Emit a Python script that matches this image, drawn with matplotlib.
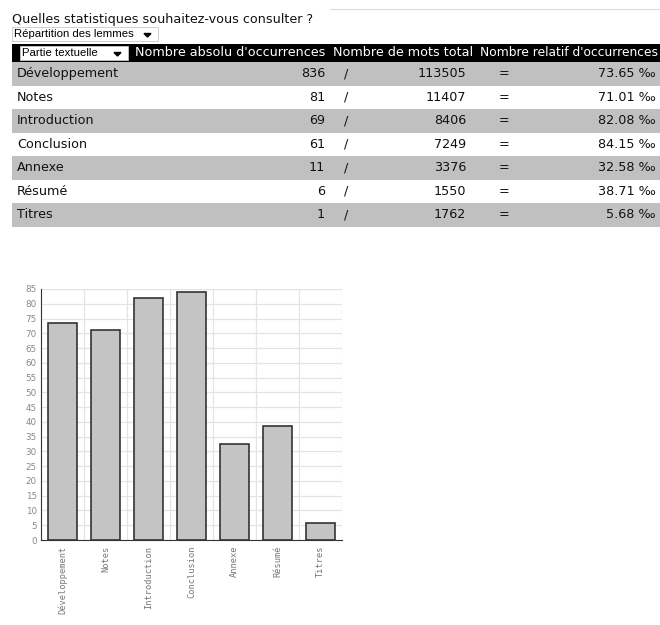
import matplotlib.pyplot as plt
from matplotlib.patches import Rectangle, Polygon

# data
parties = ["Développement", "Notes", "Introduction", "Conclusion", "Annexe", "Résumé", "Titres"]
occurrences = [836, 81, 69, 61, 11, 6, 1]
mots_total = [113505, 11407, 8406, 7249, 3376, 1550, 1762]
relatif = [73.65, 71.01, 82.08, 84.15, 32.58, 38.71, 5.68]
headers = ["Nombre absolu d'occurrences", "Nombre de mots total", "Nombre relatif d'occurrences"]

W, H = 660, 625
fig = plt.figure(figsize=(W / 100, H / 100), dpi=100)

# overlay in pixel coordinates for the table part
ov = fig.add_axes([0, 0, 1, 1])
ov.set_xlim(0, W)
ov.set_ylim(H, 0)
ov.axis("off")

font = "DejaVu Sans"
fs = 9.2

ov.plot([330, 660], [9, 9], color="#d8dce4", lw=0.8)
ov.text(12, 19, "Quelles statistiques souhaitez-vous consulter ?", fontsize=fs, family=font,
        va="center", ha="left", color="#111111")

def dropdown(x0, y0, w, h, label):
    ov.add_patch(Rectangle((x0, y0), w, h, facecolor="white", edgecolor="#c8c8c8", lw=0.6))
    ov.text(x0 + 2, y0 + h / 2, label, fontsize=8.2, family="Liberation Sans",
            va="center", ha="left", color="black")
    ax_ = x0 + w - 14
    ov.add_patch(Polygon([[ax_, y0 + h / 2 - 0.5], [ax_ + 7, y0 + h / 2 - 0.5],
                          [ax_ + 3.5, y0 + h / 2 + 3]], closed=True, color="black"))

dropdown(12, 27, 146, 14, "Répartition des lemmes")

# header row
ov.add_patch(Rectangle((12, 44), W - 12, 18, facecolor="black", edgecolor="none"))
dropdown(20, 46, 108, 14, "Partie textuelle")
hx = [135, 333, 480]
hfs = [fs, fs, 8.8]
for x, h, f in zip(hx, headers, hfs):
    ov.text(x, 53, h, fontsize=f, family=font, color="white", va="center", ha="left")

row_h = 23.5
y_start = 62
for i, p in enumerate(parties):
    y0 = y_start + i * row_h
    if i % 2 == 0:
        ov.add_patch(Rectangle((12, y0), W - 12, row_h, facecolor="#c0c0c0", edgecolor="none"))
    yc = y0 + row_h / 2
    ov.text(17, yc, p, fontsize=fs, family=font, va="center", ha="left", color="#111111")
    ov.text(325, yc, str(occurrences[i]), fontsize=fs, family=font, va="center", ha="right", color="#111111")
    ov.text(346, yc, "/", fontsize=fs, family=font, va="center", ha="center", color="#111111")
    ov.text(466, yc, str(mots_total[i]), fontsize=fs, family=font, va="center", ha="right", color="#111111")
    ov.text(504, yc, "=", fontsize=fs, family=font, va="center", ha="center", color="#111111")
    ov.text(656, yc, f"{relatif[i]:.2f} ‰", fontsize=fs, family=font, va="center", ha="right", color="#111111")

# bar chart
ax = fig.add_axes([41 / W, 1 - 540 / H, 301 / W, 251 / H])
x = range(len(parties))
ax.bar(x, relatif, width=0.67, color="#c4c4c4", edgecolor="#333333", linewidth=1.2, zorder=3)
ax.set_xlim(-0.5, len(parties) - 0.5)
ax.set_ylim(0, 85)
ax.set_yticks(range(0, 86, 5))
ax.set_xticks(list(x))
ax.set_xticklabels(parties, rotation=90, family="DejaVu Sans Mono", fontsize=6.2, color="#777777")
ax.tick_params(axis="y", labelsize=6.3, labelcolor="#888888", length=0, pad=3)
ax.tick_params(axis="x", length=0, pad=4)
for b in [i + 0.5 for i in range(len(parties))]:
    ax.axvline(b, color="#e4e4e4", lw=0.9, zorder=1)
ax.grid(axis="y", color="#e4e4e4", lw=0.9, zorder=1)
ax.set_axisbelow(True)
for s in ["top", "right"]:
    ax.spines[s].set_visible(False)
ax.axhline(85, color="#e4e4e4", lw=0.9, zorder=1)
ax.spines["left"].set_color("#333333")
ax.spines["bottom"].set_color("#333333")

fig.savefig("out.png", dpi=100)
